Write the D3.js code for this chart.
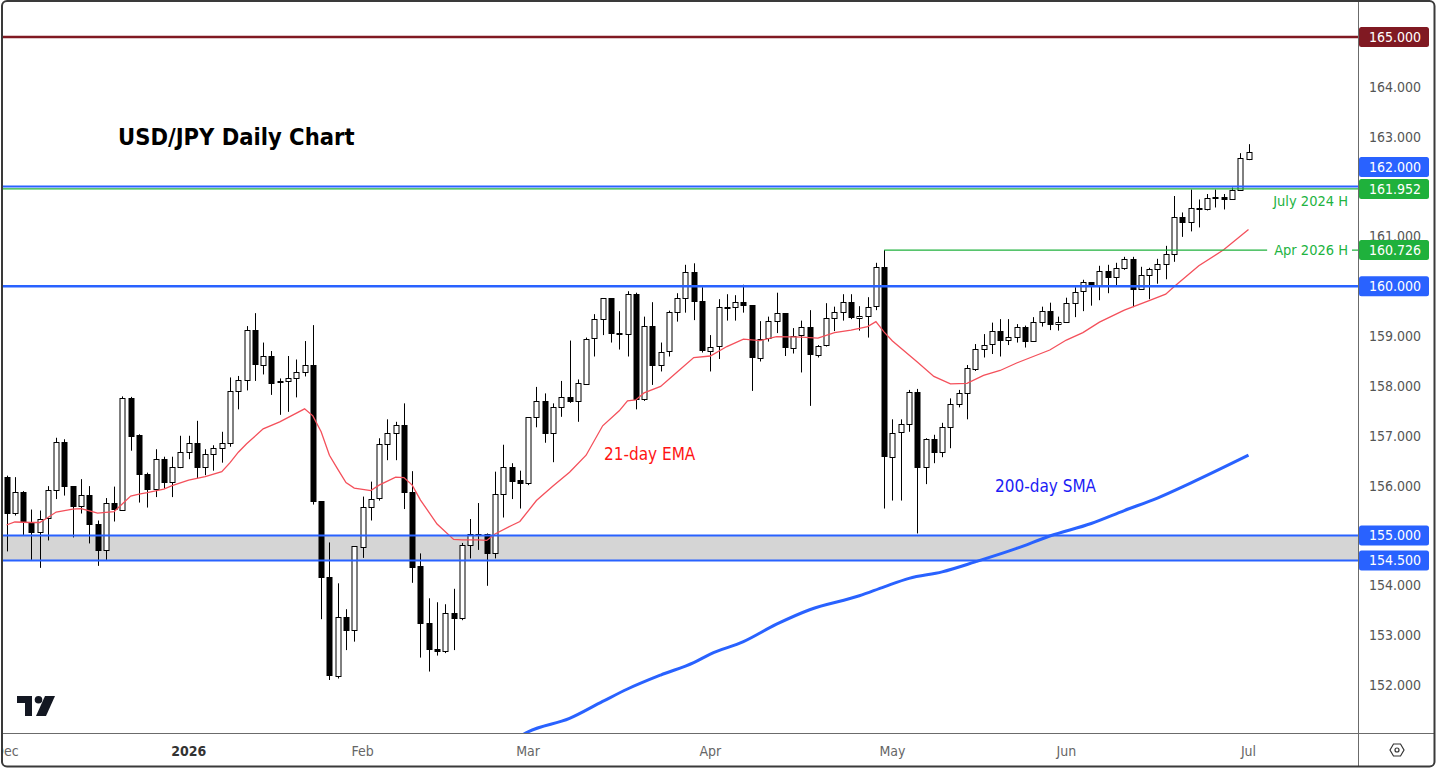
<!DOCTYPE html>
<html>
<head>
<meta charset="utf-8">
<script src="https://cdn.jsdelivr.net/npm/d3@7"></script>
<style>
  body { margin: 0; background: #fff; }
  svg { display: block; font-family: "DejaVu Sans Condensed", "DejaVu Sans", sans-serif; font-stretch: condensed; }
</style>
</head>
<body>
<div id="chart"></div>
<script>
// daily candles, [open, high, low, close], first bar 1 Dec 2025
const candles = [
  [156.17,156.20,154.68,155.44],[155.44,156.17,155.40,155.87],[155.87,155.89,155.01,155.28],[155.28,155.52,154.51,155.08],
  [155.08,155.50,154.35,155.34],[155.34,155.99,154.90,155.91],[155.91,156.96,155.73,156.87],[156.87,156.93,155.80,155.98],
  [155.99,155.99,154.96,155.58],[155.58,156.13,155.44,155.81],[155.81,155.99,154.84,155.22],[155.23,155.30,154.39,154.70],
  [154.70,155.75,154.51,155.65],[155.65,155.98,155.28,155.52],[155.52,157.79,155.50,157.76],[157.76,157.78,156.70,157.00],
  [157.01,157.03,155.66,156.23],[156.23,156.26,155.56,155.93],[155.93,156.73,155.77,156.53],[156.53,156.58,155.94,156.07],
  [156.07,156.58,155.77,156.37],[156.37,157.00,156.35,156.67],[156.67,157.00,156.53,156.85],[156.85,157.30,156.15,156.37],
  [156.37,156.73,156.21,156.63],[156.63,156.81,156.30,156.75],[156.75,157.08,156.46,156.85],[156.85,158.17,156.78,157.90],
  [157.90,158.20,157.53,158.12],[158.12,159.20,157.91,159.12],[159.12,159.46,158.10,158.43],[158.43,158.87,158.23,158.61],
  [158.61,158.70,157.82,158.07],[158.10,158.15,157.42,158.07],[158.09,158.60,157.48,158.15],[158.15,158.53,157.77,158.27],
  [158.27,158.90,158.19,158.41],[158.41,159.22,155.62,155.69],[155.69,155.69,153.32,154.16],[154.16,154.86,152.10,152.19],
  [152.19,154.04,152.13,153.37],[153.37,153.52,152.70,153.10],[153.10,154.78,152.87,154.78],[154.78,155.78,154.55,155.58],
  [155.58,156.08,155.30,155.74],[155.74,156.95,155.70,156.83],[156.83,157.33,156.51,157.05],[157.05,157.28,156.51,157.21],
  [157.21,157.65,155.53,155.86],[155.87,156.29,154.05,154.37],[154.39,154.64,152.55,153.24],[153.24,153.74,152.27,152.72],
  [152.72,153.66,152.59,152.67],[152.67,153.62,152.64,153.44],[153.44,153.93,152.70,153.34],[153.34,154.85,153.30,154.81],
  [154.80,155.33,154.54,155.02],[155.02,155.65,154.71,155.03],[155.02,155.04,153.99,154.64],[154.64,156.28,154.54,155.83],
  [155.83,156.82,155.36,156.38],[156.38,156.45,155.73,156.10],[156.11,156.30,155.54,156.05],[156.05,157.37,156.01,157.37],
  [157.37,157.98,157.17,157.70],[157.70,157.85,156.86,157.05],[157.05,157.65,156.47,157.57],[157.57,158.10,157.38,157.77],
  [157.77,158.91,157.66,157.68],[157.68,158.13,157.28,158.05],[158.05,158.97,158.05,158.95],[158.95,159.44,158.59,159.34],
  [159.34,159.76,159.02,159.76],[159.76,159.76,158.87,159.06],[159.06,159.50,158.73,159.03],[159.03,159.90,158.59,159.84],
  [159.84,159.87,157.53,157.74],[157.74,159.39,157.70,159.21],[159.21,159.68,158.02,158.43],[158.43,158.87,158.29,158.69],
  [158.69,159.51,158.59,159.48],[159.48,159.86,159.29,159.76],[159.76,160.43,159.47,160.28],[160.28,160.46,159.32,159.69],
  [159.70,159.98,158.67,158.71],[158.71,159.02,158.29,158.79],[158.79,159.74,158.54,159.58],[159.58,159.84,159.31,159.59],
  [159.58,159.82,159.31,159.68],[159.68,160.03,159.47,159.61],[159.62,159.62,157.90,158.57],[158.57,159.30,158.49,158.95],
  [158.95,159.39,158.89,159.30],[159.30,159.87,159.06,159.46],[159.46,159.46,158.60,158.77],[158.77,159.16,158.65,159.01],
  [159.01,159.31,158.27,159.18],[159.18,159.52,157.60,158.63],[158.63,158.82,158.57,158.81],[158.81,159.66,158.79,159.36],
  [159.36,159.59,159.10,159.48],[159.48,159.84,159.31,159.68],[159.68,159.84,159.34,159.37],[159.37,159.60,159.11,159.41],
  [159.41,159.78,158.97,159.59],[159.59,160.47,159.52,160.38],[160.38,160.726,155.54,156.58],[156.58,157.33,155.70,157.06],
  [157.07,157.33,155.70,157.23],[157.23,157.92,157.08,157.87],[157.87,157.94,155.04,156.37],[156.37,156.95,156.03,156.93],
  [156.93,157.02,156.45,156.67],[156.67,157.26,156.57,157.17],[157.17,157.75,156.75,157.63],[157.63,157.92,157.57,157.85],
  [157.85,158.42,157.33,158.35],[158.35,158.84,158.30,158.75],[158.75,159.04,158.57,158.83],[158.83,159.27,158.64,159.10],
  [159.10,159.34,158.59,158.91],[158.91,159.34,158.82,158.98],[158.98,159.24,158.87,159.19],[159.19,159.21,158.77,158.91],
  [158.91,159.38,158.89,159.29],[159.29,159.59,159.19,159.51],[159.51,159.67,159.12,159.24],[159.24,159.39,159.11,159.29],
  [159.28,159.77,159.27,159.67],[159.67,159.98,159.38,159.89],[159.89,160.13,159.50,160.08],[160.08,160.08,159.61,160.01],
  [160.01,160.41,159.72,160.31],[160.31,160.43,159.86,160.18],[160.18,160.47,159.99,160.36],[160.36,160.59,160.33,160.55],
  [160.55,160.59,159.58,159.94],[159.94,160.39,159.93,160.22],[160.22,160.37,159.74,160.34],[160.34,160.55,160.05,160.44],
  [160.44,160.81,160.14,160.64],[160.64,161.81,160.49,161.38],[161.38,161.48,160.99,161.28],[161.28,161.94,161.10,161.56],
  [161.56,161.74,161.18,161.57],[161.56,161.85,161.52,161.78],[161.78,161.94,161.58,161.79],[161.79,161.85,161.54,161.75],
  [161.75,161.98,161.74,161.93],[161.93,162.67,161.93,162.57],[162.56,162.85,162.53,162.70]
];
const firstDay = "2025-12-01";
const holidays = ["2025-12-25", "2026-01-01"];

// 21-day EMA: [bar index, value]
const ema21 = [
  [0,155.21],[1,155.27],[3,155.26],[4,155.26],[5,155.36],[6,155.47],[8,155.53],[9,155.54],[11,155.45],[13,155.48],
  [15,155.79],[16,155.83],[17,155.86],[19,155.93],[20,156.00],[22,156.11],[24,156.18],[26,156.28],[27,156.46],[28,156.67],
  [29,156.84],[31,157.14],[33,157.28],[36,157.54],[37,157.40],[38,157.08],[39,156.61],[40,156.33],[41,156.06],[42,155.95],
  [44,155.90],[45,156.01],[47,156.17],[48,156.16],[49,156.01],[50,155.71],[52,155.23],[54,154.92],[55,154.91],[57,154.91],
  [58,154.90],[59,155.03],[61,155.20],[62,155.28],[64,155.70],[66,155.99],[68,156.27],[70,156.61],[72,157.20],[74,157.50],
  [75,157.70],[76,157.72],[77,157.86],[79,157.99],[81,158.28],[83,158.57],[85,158.60],[87,158.79],[89,158.94],[91,158.91],
  [93,158.99],[96,158.98],[98,158.96],[100,159.07],[102,159.12],[104,159.19],[105,159.29],[106,159.08],[107,158.90],[109,158.62],
  [110,158.48],[112,158.19],[114,158.04],[116,158.05],[118,158.21],[120,158.31],[122,158.46],[124,158.59],[126,158.72],[128,158.92],
  [130,159.07],[132,159.28],[135,159.52],[138,159.71],[140,159.84],[141,159.99],[144,160.41],[147,160.73],[150,161.14]
];
// 200-day SMA
const sma200 = [
  [62,150.97],[63,151.06],[68,151.33],[72,151.67],[75,151.92],[79,152.20],[83,152.45],[85,152.62],[89,152.87],[93,153.22],
  [97,153.51],[103,153.79],[106,153.97],[109,154.14],[113,154.27],[117,154.47],[122,154.74],[126,154.99],[131,155.24],
  [135,155.50],[139,155.75],[143,156.05],[150,156.61]
];

const priceTicks = [152,153,154,155,156,157,158,159,160,161,162,163,164,165];
const monthLabels = ["Dec","2026","Feb","Mar","Apr","May","Jun","Jul"];
const levels = [
  {v:165, kind:"red"}, {v:162, kind:"blue"}, {v:161.952, kind:"green"}, {v:160.726, kind:"green"},
  {v:160, kind:"blue"}, {v:155, kind:"blue"}, {v:154.5, kind:"blue"}
];
const zone = [154.5, 155];
const aprHighBar = 106;

const W = 1437, H = 768, plotL = 3, plotR = 1358, plotT = 2, plotB = 733;
const BLUE = "#2962ff", GREEN = "#1fb13c", RED = "#801922";
const colorOf = {red: RED, blue: BLUE, green: GREEN};

// trading-day calendar
const days = [];
let d = new Date(firstDay + "T12:00:00Z");
while (days.length < candles.length) {
  const iso = d.toISOString().slice(0, 10);
  const wd = d.getUTCDay();
  if (wd !== 0 && wd !== 6 && !holidays.includes(iso)) days.push(new Date(d));
  d = new Date(d.getTime() + 86400000);
}

const x = d3.scaleLinear().domain([0, candles.length - 1]).range([6.5, 1248.5]);
const y = d3.scaleLinear().domain([152, 165]).range([685, 37]);

const svg = d3.select("#chart").append("svg").attr("width", W).attr("height", H);
svg.append("rect").attr("width", W).attr("height", H).attr("fill", "#fff");

svg.append("clipPath").attr("id", "plot")
  .append("rect").attr("x", plotL).attr("y", plotT).attr("width", plotR - plotL).attr("height", plotB - plotT);
const plot = svg.append("g").attr("clip-path", "url(#plot)");

// support zone
plot.append("rect")
  .attr("x", plotL).attr("width", plotR - plotL)
  .attr("y", y(zone[1])).attr("height", y(zone[0]) - y(zone[1]))
  .attr("fill", "#d5d5d5");

// candles
const px = i => Math.round(x(i)) + 0.5;
const c = plot.append("g").selectAll("g").data(candles).join("g");
c.append("line")
  .attr("x1", (v, i) => px(i)).attr("x2", (v, i) => px(i))
  .attr("y1", v => y(v[1])).attr("y2", v => y(v[2]))
  .attr("stroke", "#000").attr("stroke-width", 1);
c.append("rect")
  .attr("x", (v, i) => px(i) - 2.5).attr("width", 5)
  .attr("y", v => Math.round(y(Math.max(v[0], v[3]))) + 0.5)
  .attr("height", v => Math.max(1, Math.round(Math.abs(y(v[0]) - y(v[3])))))
  .attr("fill", v => v[3] >= v[0] ? "#fff" : "#000")
  .attr("stroke", "#000").attr("stroke-width", 1);

// moving averages
const line = d3.line().x(p => x(p[0])).y(p => y(p[1]));
plot.append("path").datum(sma200).attr("d", line.curve(d3.curveMonotoneX))
  .attr("fill", "none").attr("stroke", BLUE).attr("stroke-width", 3).attr("stroke-linejoin", "round");
plot.append("path").datum(ema21).attr("d", line.curve(d3.curveLinear))
  .attr("fill", "none").attr("stroke", "#f4505b").attr("stroke-width", 1.3);

// horizontal levels
const hl = (v, x1, color, w) => plot.append("line")
  .attr("x1", x1).attr("x2", plotR).attr("y1", y(v)).attr("y2", y(v))
  .attr("stroke", color).attr("stroke-width", w);
hl(165, plotL, RED, 2.5);
hl(162, plotL, BLUE, 2);
hl(161.952, plotL, GREEN, 1.2);
hl(160, plotL, BLUE, 2.6);
hl(155, plotL, BLUE, 2);
hl(154.5, plotL, BLUE, 2);
hl(160.726, x(aprHighBar), GREEN, 1.2);

// level captions
plot.append("text").attr("x", 1348).attr("y", y(161.952) + 17)
  .attr("text-anchor", "end").attr("font-size", 14.5).attr("fill", "#22b33f").text("July 2024 H");
const aprTxt = plot.append("text").attr("x", 1348).attr("y", y(160.726) + 5)
  .attr("text-anchor", "end").attr("font-size", 14.5).attr("fill", "#22b33f").text("Apr 2026 H");
const bb = aprTxt.node().getBBox();
plot.insert("rect", function() { return aprTxt.node(); })
  .attr("x", bb.x - 7).attr("width", bb.width + 11)
  .attr("y", bb.y).attr("height", bb.height).attr("fill", "#fff");

// annotations
svg.append("text").attr("x", 118).attr("y", 145).attr("font-size", 23.5).attr("font-weight", "bold")
  .attr("fill", "#000").text("USD/JPY Daily Chart");
svg.append("text").attr("x", 604).attr("y", 460).attr("font-size", 17).attr("fill", "#ff1414").text("21-day EMA");
svg.append("text").attr("x", 995).attr("y", 492).attr("font-size", 17).attr("fill", "#1c1cf5").text("200-day SMA");

// TradingView mark
const logo = svg.append("g").attr("fill", "#131722");
logo.append("path").attr("d", "M17,696 H32 V716 H25 V703 H17 Z");
logo.append("circle").attr("cx", 38.5).attr("cy", 699.8).attr("r", 3.8);
logo.append("path").attr("d", "M45,696 H55 L46,716 H36 Z");

// price axis
svg.append("line").attr("x1", plotR + 0.5).attr("x2", plotR + 0.5).attr("y1", 1).attr("y2", 766)
  .attr("stroke", "#6b6b6b").attr("stroke-width", 1);
svg.append("g").selectAll("text").data(priceTicks).join("text")
  .attr("x", 1395).attr("y", v => y(v) + 5).attr("text-anchor", "middle")
  .attr("font-size", 14).attr("fill", "#555").text(v => v.toFixed(3));

// level tags, nudged apart where they collide
const boxH = 20;
const tags = levels.map(l => ({...l, cy: y(l.v)})).sort((a, b) => b.cy - a.cy);
for (let i = 1; i < tags.length; i++) {
  if (tags[i - 1].cy - tags[i].cy < boxH + 2) tags[i].cy = tags[i - 1].cy - (boxH + 2);
}
const tg = svg.append("g").selectAll("g").data(tags).join("g");
tg.append("rect").attr("x", 1359).attr("width", 70).attr("y", t => t.cy - boxH / 2).attr("height", boxH)
  .attr("rx", 2.5).attr("fill", t => colorOf[t.kind]);
tg.append("text").attr("x", 1395).attr("y", t => t.cy + 5).attr("text-anchor", "middle")
  .attr("font-size", 14).attr("fill", "#fff").text(t => t.v.toFixed(3));

// time axis
svg.append("line").attr("x1", plotL).attr("x2", 1434).attr("y1", plotB + 0.5).attr("y2", plotB + 0.5)
  .attr("stroke", "#6b6b6b").attr("stroke-width", 1);
const monthStarts = days.map((dd, i) => i).filter(i => i === 0 || days[i].getUTCMonth() !== days[i - 1].getUTCMonth());
svg.append("clipPath").attr("id", "taxis").append("rect").attr("x", plotL).attr("y", plotB).attr("width", plotR - plotL).attr("height", H - plotB);
const ta = svg.append("g").attr("clip-path", "url(#taxis)");
ta.selectAll("text").data(monthStarts).join("text")
  .attr("x", i => x(i)).attr("y", 756).attr("text-anchor", "middle").attr("font-size", 14)
  .attr("font-weight", (i, k) => monthLabels[k] === "2026" ? "bold" : "normal")
  .attr("fill", (i, k) => monthLabels[k] === "2026" ? "#333" : "#666")
  .text((i, k) => monthLabels[k]);

// settings glyph
const gx = 1397, gy = 750;
svg.append("path")
  .attr("d", `M${gx - 7},${gy} L${gx - 3.5},${gy - 6} L${gx + 3.5},${gy - 6} L${gx + 7},${gy} L${gx + 3.5},${gy + 6} L${gx - 3.5},${gy + 6} Z`)
  .attr("fill", "none").attr("stroke", "#333").attr("stroke-width", 1.2);
svg.append("circle").attr("cx", gx).attr("cy", gy).attr("r", 2).attr("fill", "none").attr("stroke", "#333").attr("stroke-width", 1.2);

// outer frame
svg.append("rect").attr("x", 2).attr("y", 1).attr("width", 1432.5).attr("height", 765.5).attr("rx", 5)
  .attr("fill", "none").attr("stroke", "#3a3a3a").attr("stroke-width", 2);
</script>
</body>
</html>
